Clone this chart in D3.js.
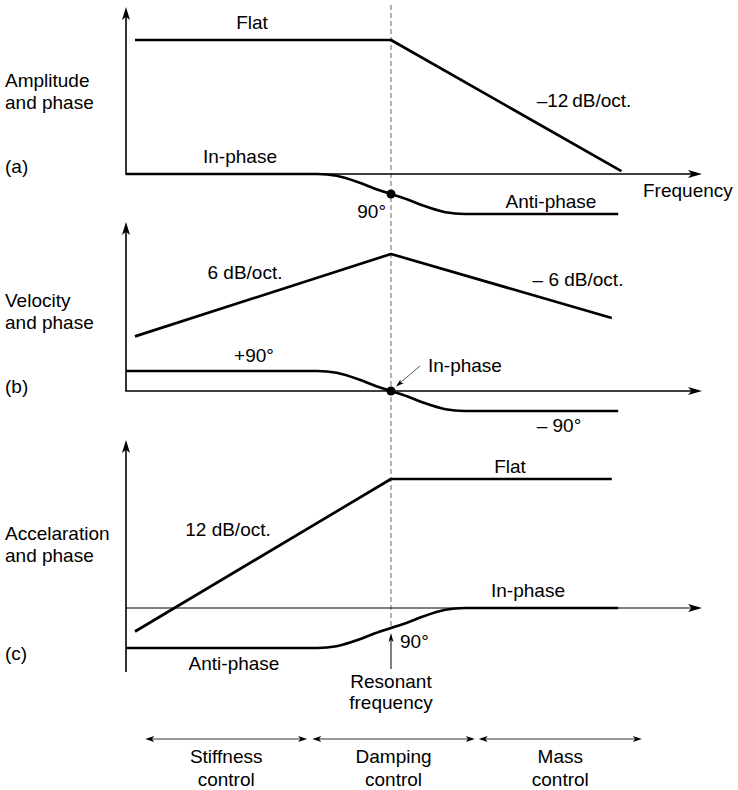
<!DOCTYPE html>
<html>
<head>
<meta charset="utf-8">
<script src="https://cdnjs.cloudflare.com/ajax/libs/d3/7.8.5/d3.min.js"></script>
<style>
body{margin:0;background:#fff;}
svg text{font-family:"Liberation Sans",Arial,Helvetica,sans-serif;font-size:19px;fill:#000;}
</style>
</head>
<body>
<div id="plot"></div>
<script>
// frequency in octaves from resonance, levels in dB, phase in degrees
var ampOct = [-4, 0, 3.6];
var ampDb = [0, 0, -43];
var velOct = [-4, 0, 3.45];
var velDb = [-27, 0, -21];
var accOct = [-4, 0, 3.45];
var accDb = [-50, 0, 0];

var phaseOct = [-4.14, -1.15, -0.85, -0.5, -0.25, 0, 0.25, 0.5, 0.85, 1.15, 3.55];
var phaseA = [0, 0, -8, -38, -66, -90, -114, -142, -172, -180, -180];
var phaseB = [90, 90, 82, 52, 24, 0, -24, -52, -82, -90, -90];
var phaseC = [-180, -180, -172, -142, -114, -90, -66, -38, -8, 0, 0];

var regionNames = [["Stiffness", "control"], ["Damping", "control"], ["Mass", "control"]];
var regionFrom = [-3.84, -1.23, 1.37];
var regionTo = [-1.31, 1.31, 3.92];

function chart(){
	var width = 738, height = 790;
	var axisLeft = 126, axisRight = 702;

	var svg = d3.select("#plot").append("svg")
		.attr("width", width)
		.attr("height", height);

	svg.append("rect").attr("width", width).attr("height", height).attr("fill", "#fff");

	var x = d3.scaleLinear().domain([-4, 0]).range([135, 391]);

	var panels = [
		{top: 7, axisY: 174, bottom: 174, db0: 40, ph0: 174, oct: ampOct, db: ampDb, phase: phaseA, thin: false,
			label: ["Amplitude", "and phase"], labelY: 87, tag: "(a)", tagY: 173},
		{top: 222, axisY: 391, bottom: 391, db0: 254, ph0: 391, oct: velOct, db: velDb, phase: phaseB, thin: false,
			label: ["Velocity", "and phase"], labelY: 307, tag: "(b)", tagY: 393},
		{top: 440, axisY: 608, bottom: 672, db0: 479, ph0: 608, oct: accOct, db: accDb, phase: phaseC, thin: true,
			label: ["Accelaration", "and phase"], labelY: 540, tag: "(c)", tagY: 660}
	];

	// resonance line
	svg.append("line")
		.attr("x1", x(0)).attr("x2", x(0))
		.attr("y1", 5).attr("y2", 627)
		.attr("stroke", "#666")
		.attr("stroke-width", 1)
		.attr("stroke-dasharray", "5,3");

	panels.forEach(function(p){
		var yDb = d3.scaleLinear().domain([0, -50]).range([p.db0, p.db0 + 50 * 3.05]);
		var yPh = d3.scaleLinear().domain([0, -180]).range([p.ph0, p.ph0 + 40]);
		var g = svg.append("g");

		// axes
		g.append("line")
			.attr("x1", axisLeft).attr("x2", axisLeft)
			.attr("y1", p.bottom).attr("y2", p.top + 6)
			.attr("stroke", "#000").attr("stroke-width", 1.6);
		arrowHead(g, axisLeft, p.bottom, axisLeft, p.top, 13, 8);

		g.append("line")
			.attr("x1", axisLeft - (p.thin ? 0 : 0.8)).attr("x2", axisRight - 6)
			.attr("y1", p.axisY).attr("y2", p.axisY)
			.attr("stroke", "#000").attr("stroke-width", p.thin ? 1 : 1.6);
		arrowHead(g, axisLeft, p.axisY, axisRight, p.axisY, 14, 8);

		// amplitude
		var line = d3.line()
			.x(function(d, i){ return x(p.oct[i]); })
			.y(function(d){ return yDb(d); });
		g.append("path")
			.attr("d", line(p.db))
			.attr("fill", "none")
			.attr("stroke", "#000")
			.attr("stroke-width", 2.7)
			.attr("stroke-linejoin", "round");

		// phase
		var pline = d3.line()
			.x(function(d, i){ return x(phaseOct[i]); })
			.y(function(d){ return yPh(d); })
			.curve(d3.curveMonotoneX);
		g.append("path")
			.attr("d", pline(p.phase))
			.attr("fill", "none")
			.attr("stroke", "#000")
			.attr("stroke-width", 2.7);

		// side labels
		g.append("text").attr("x", 5).attr("y", p.labelY).text(p.label[0]);
		g.append("text").attr("x", 5).attr("y", p.labelY + 22).text(p.label[1]);
		g.append("text").attr("x", 5).attr("y", p.tagY).text(p.tag);

		p.yPh = yPh;
	});

	// resonance dots
	svg.append("circle").attr("cx", x(0)).attr("cy", panels[0].yPh(phaseA[5])).attr("r", 4.5).attr("fill", "#000");
	svg.append("circle").attr("cx", x(0)).attr("cy", panels[1].yPh(phaseB[5])).attr("r", 4.5).attr("fill", "#000");

	// pointer to in-phase dot (b)
	svg.append("line")
		.attr("x1", 420).attr("y1", 366).attr("x2", 400).attr("y2", 383)
		.attr("stroke", "#333").attr("stroke-width", 0.8);
	arrowHead(svg, 420, 366, 396, 386.5, 8, 5);

	// 90 degree arrow (c)
	svg.append("line")
		.attr("x1", x(0)).attr("x2", x(0))
		.attr("y1", 669).attr("y2", 640)
		.attr("stroke", "#000").attr("stroke-width", 1);
	arrowHead(svg, x(0), 669, x(0), 633, 9, 5);

	var labels = [
		["Flat", 252, 29, "middle"],
		["\u201312\u2009dB/oct.", 584, 107, "middle"],
		["In-phase", 240, 163, "middle"],
		["90\u00b0", 386, 218, "end"],
		["Anti-phase", 551, 208, "middle"],
		["Frequency", 643, 197, "start"],
		["6 dB/oct.", 245, 279, "middle"],
		["\u2013 6 dB/oct.", 578, 286, "middle"],
		["+90\u00b0", 254, 362, "middle"],
		["In-phase", 428, 372, "start"],
		["\u2013 90\u00b0", 559, 432, "middle"],
		["12 dB/oct.", 228, 536, "middle"],
		["Flat", 510, 473, "middle"],
		["In-phase", 528, 597, "middle"],
		["90\u00b0", 400, 648, "start"],
		["Anti-phase", 234, 670, "middle"],
		["Resonant", 391, 688, "middle"],
		["frequency", 391, 709, "middle"]
	];

	svg.append("g")
		.selectAll("text")
		.data(labels)
		.enter().append("text")
		.attr("x", function(d){ return d[1]; })
		.attr("y", function(d){ return d[2]; })
		.attr("text-anchor", function(d){ return d[3]; })
		.text(function(d){ return d[0]; });

	// control regions
	var rowY = 739;
	regionNames.forEach(function(name, i){
		var x1 = x(regionFrom[i]), x2 = x(regionTo[i]);
		svg.append("line")
			.attr("x1", x1 + 4).attr("x2", x2 - 4)
			.attr("y1", rowY).attr("y2", rowY)
			.attr("stroke", "#333").attr("stroke-width", 1);
		arrowHead(svg, x2, rowY, x1, rowY, 9, 6);
		arrowHead(svg, x1, rowY, x2, rowY, 9, 6);
		var cx = (x1 + x2) / 2;
		svg.append("text").attr("x", cx).attr("y", rowY + 24).attr("text-anchor", "middle").text(name[0]);
		svg.append("text").attr("x", cx).attr("y", rowY + 47).attr("text-anchor", "middle").text(name[1]);
	});

	function arrowHead(sel, x1, y1, x2, y2, len, wid){
		var a = Math.atan2(y2 - y1, x2 - x1);
		var bx = x2 - len * Math.cos(a), by = y2 - len * Math.sin(a);
		var nx = -Math.sin(a) * wid / 2, ny = Math.cos(a) * wid / 2;
		var ix = x2 - len * 0.75 * Math.cos(a), iy = y2 - len * 0.75 * Math.sin(a);
		sel.append("path")
			.attr("d", "M" + x2 + "," + y2 + "L" + (bx + nx) + "," + (by + ny) +
				"L" + ix + "," + iy + "L" + (bx - nx) + "," + (by - ny) + "Z")
			.attr("fill", "#000");
	}
}

chart();
</script>
</body>
</html>
